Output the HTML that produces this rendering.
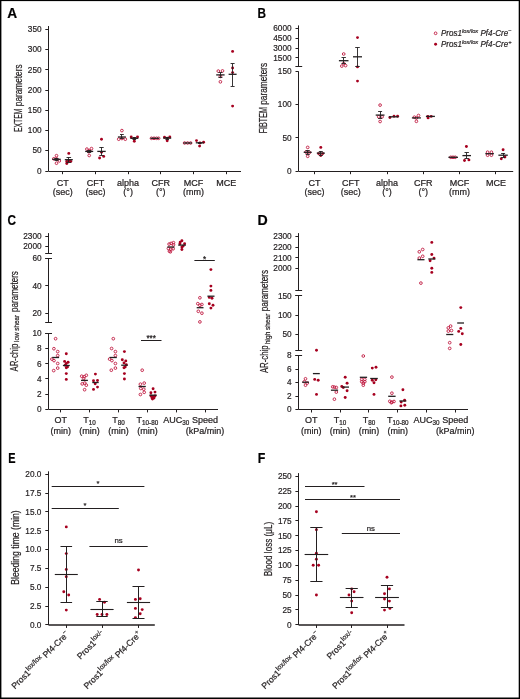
<!DOCTYPE html>
<html><head><meta charset="utf-8"><style>
html,body{margin:0;padding:0;background:#fff;}
svg{display:block;will-change:transform;}
text{font-family:"Liberation Sans",sans-serif;stroke:#231f20;stroke-width:0.22px;}
</style></head><body>
<svg width="520" height="699" viewBox="0 0 520 699" font-family="Liberation Sans, sans-serif">
<rect width="520" height="699" fill="#fff"/>
<text x="7.3" y="18.3" font-size="13.8" font-weight="bold" fill="#000" textLength="9.9" lengthAdjust="spacingAndGlyphs">A</text>
<line x1="48.50" y1="26.00" x2="48.50" y2="171.00" stroke="#231f20" stroke-width="1.0"/>
<line x1="45.30" y1="171.50" x2="48.50" y2="171.50" stroke="#231f20" stroke-width="1.0"/>
<text x="41.60" y="173.70" font-size="9.5" fill="#231f20" text-anchor="end" textLength="4.60" lengthAdjust="spacingAndGlyphs">0</text>
<line x1="45.30" y1="150.50" x2="48.50" y2="150.50" stroke="#231f20" stroke-width="1.0"/>
<text x="41.60" y="153.47" font-size="9.5" fill="#231f20" text-anchor="end" textLength="9.19" lengthAdjust="spacingAndGlyphs">50</text>
<line x1="45.30" y1="130.50" x2="48.50" y2="130.50" stroke="#231f20" stroke-width="1.0"/>
<text x="41.60" y="133.24" font-size="9.5" fill="#231f20" text-anchor="end" textLength="13.79" lengthAdjust="spacingAndGlyphs">100</text>
<line x1="45.30" y1="110.50" x2="48.50" y2="110.50" stroke="#231f20" stroke-width="1.0"/>
<text x="41.60" y="113.01" font-size="9.5" fill="#231f20" text-anchor="end" textLength="13.79" lengthAdjust="spacingAndGlyphs">150</text>
<line x1="45.30" y1="90.50" x2="48.50" y2="90.50" stroke="#231f20" stroke-width="1.0"/>
<text x="41.60" y="92.78" font-size="9.5" fill="#231f20" text-anchor="end" textLength="13.79" lengthAdjust="spacingAndGlyphs">200</text>
<line x1="45.30" y1="69.50" x2="48.50" y2="69.50" stroke="#231f20" stroke-width="1.0"/>
<text x="41.60" y="72.55" font-size="9.5" fill="#231f20" text-anchor="end" textLength="13.79" lengthAdjust="spacingAndGlyphs">250</text>
<line x1="45.30" y1="49.50" x2="48.50" y2="49.50" stroke="#231f20" stroke-width="1.0"/>
<text x="41.60" y="52.32" font-size="9.5" fill="#231f20" text-anchor="end" textLength="13.79" lengthAdjust="spacingAndGlyphs">300</text>
<line x1="45.30" y1="29.50" x2="48.50" y2="29.50" stroke="#231f20" stroke-width="1.0"/>
<text x="41.60" y="32.09" font-size="9.5" fill="#231f20" text-anchor="end" textLength="13.79" lengthAdjust="spacingAndGlyphs">350</text>
<line x1="48.50" y1="171.50" x2="241.00" y2="171.50" stroke="#231f20" stroke-width="1.0"/>
<line x1="62.50" y1="171.00" x2="62.50" y2="174.20" stroke="#231f20" stroke-width="1.0"/>
<line x1="95.50" y1="171.00" x2="95.50" y2="174.20" stroke="#231f20" stroke-width="1.0"/>
<line x1="128.50" y1="171.00" x2="128.50" y2="174.20" stroke="#231f20" stroke-width="1.0"/>
<line x1="160.50" y1="171.00" x2="160.50" y2="174.20" stroke="#231f20" stroke-width="1.0"/>
<line x1="193.50" y1="171.00" x2="193.50" y2="174.20" stroke="#231f20" stroke-width="1.0"/>
<line x1="226.50" y1="171.00" x2="226.50" y2="174.20" stroke="#231f20" stroke-width="1.0"/>
<text transform="translate(21.60,131.90) rotate(-90)" x="0" y="0" font-size="10.2" fill="#231f20" textLength="23.2" lengthAdjust="spacingAndGlyphs">EXTEM</text>
<text transform="translate(21.60,106.20) rotate(-90)" x="0" y="0" font-size="10.2" fill="#231f20" textLength="41.8" lengthAdjust="spacingAndGlyphs">parameters</text>
<text x="62.70" y="185.60" font-size="9.0" fill="#231f20" text-anchor="middle">CT</text>
<text x="62.70" y="195.20" font-size="9.0" fill="#231f20" text-anchor="middle">(sec)</text>
<text x="95.40" y="185.60" font-size="9.0" fill="#231f20" text-anchor="middle">CFT</text>
<text x="95.40" y="195.20" font-size="9.0" fill="#231f20" text-anchor="middle">(sec)</text>
<text x="128.10" y="185.60" font-size="9.0" fill="#231f20" text-anchor="middle">alpha</text>
<text x="128.10" y="195.20" font-size="9.0" fill="#231f20" text-anchor="middle">(°)</text>
<text x="160.80" y="185.60" font-size="9.0" fill="#231f20" text-anchor="middle">CFR</text>
<text x="160.80" y="195.20" font-size="9.0" fill="#231f20" text-anchor="middle">(°)</text>
<text x="193.50" y="185.60" font-size="9.0" fill="#231f20" text-anchor="middle">MCF</text>
<text x="193.50" y="195.20" font-size="9.0" fill="#231f20" text-anchor="middle">(mm)</text>
<text x="226.20" y="185.60" font-size="9.0" fill="#231f20" text-anchor="middle">MCE</text>
<circle cx="56.50" cy="155.70" r="1.35" fill="none" stroke="#c0183f" stroke-width="0.9"/>
<circle cx="53.80" cy="158.80" r="1.35" fill="none" stroke="#c0183f" stroke-width="0.9"/>
<circle cx="59.30" cy="160.90" r="1.35" fill="none" stroke="#c0183f" stroke-width="0.9"/>
<circle cx="56.50" cy="163.20" r="1.35" fill="none" stroke="#c0183f" stroke-width="0.9"/>
<circle cx="56.50" cy="158.80" r="1.35" fill="none" stroke="#c0183f" stroke-width="0.9"/>
<line x1="56.50" y1="158.00" x2="56.50" y2="160.60" stroke="#231f20" stroke-width="0.9"/>
<line x1="54.50" y1="158.50" x2="58.50" y2="158.50" stroke="#231f20" stroke-width="0.9"/>
<line x1="54.50" y1="160.50" x2="58.50" y2="160.50" stroke="#231f20" stroke-width="0.9"/>
<line x1="52.30" y1="159.30" x2="60.70" y2="159.30" stroke="#231f20" stroke-width="1.3"/>
<circle cx="68.80" cy="153.40" r="1.45" fill="#a6001f"/>
<circle cx="66.80" cy="161.40" r="1.45" fill="#a6001f"/>
<circle cx="70.80" cy="161.40" r="1.45" fill="#a6001f"/>
<circle cx="66.80" cy="163.50" r="1.45" fill="#a6001f"/>
<circle cx="68.80" cy="161.00" r="1.45" fill="#a6001f"/>
<line x1="68.50" y1="157.40" x2="68.50" y2="162.00" stroke="#231f20" stroke-width="0.9"/>
<line x1="66.50" y1="157.50" x2="71.10" y2="157.50" stroke="#231f20" stroke-width="0.9"/>
<line x1="66.50" y1="162.50" x2="71.10" y2="162.50" stroke="#231f20" stroke-width="0.9"/>
<line x1="64.80" y1="159.70" x2="72.80" y2="159.70" stroke="#231f20" stroke-width="1.3"/>
<circle cx="86.90" cy="149.10" r="1.35" fill="none" stroke="#c0183f" stroke-width="0.9"/>
<circle cx="91.50" cy="148.60" r="1.35" fill="none" stroke="#c0183f" stroke-width="0.9"/>
<circle cx="89.20" cy="150.60" r="1.35" fill="none" stroke="#c0183f" stroke-width="0.9"/>
<circle cx="89.20" cy="155.50" r="1.35" fill="none" stroke="#c0183f" stroke-width="0.9"/>
<circle cx="88.70" cy="151.70" r="1.35" fill="none" stroke="#c0183f" stroke-width="0.9"/>
<line x1="89.50" y1="150.40" x2="89.50" y2="152.60" stroke="#231f20" stroke-width="0.9"/>
<line x1="87.20" y1="150.50" x2="91.20" y2="150.50" stroke="#231f20" stroke-width="0.9"/>
<line x1="87.20" y1="152.50" x2="91.20" y2="152.50" stroke="#231f20" stroke-width="0.9"/>
<line x1="85.20" y1="151.40" x2="93.20" y2="151.40" stroke="#231f20" stroke-width="1.3"/>
<circle cx="101.50" cy="139.30" r="1.45" fill="#a6001f"/>
<circle cx="99.60" cy="158.00" r="1.45" fill="#a6001f"/>
<circle cx="103.70" cy="156.40" r="1.45" fill="#a6001f"/>
<circle cx="101.50" cy="152.30" r="1.45" fill="#a6001f"/>
<line x1="101.50" y1="147.10" x2="101.50" y2="155.30" stroke="#231f20" stroke-width="0.9"/>
<line x1="99.30" y1="147.50" x2="103.70" y2="147.50" stroke="#231f20" stroke-width="0.9"/>
<line x1="99.30" y1="155.50" x2="103.70" y2="155.50" stroke="#231f20" stroke-width="0.9"/>
<line x1="97.30" y1="151.40" x2="105.70" y2="151.40" stroke="#231f20" stroke-width="1.3"/>
<circle cx="121.90" cy="130.60" r="1.35" fill="none" stroke="#c0183f" stroke-width="0.9"/>
<circle cx="118.70" cy="139.20" r="1.35" fill="none" stroke="#c0183f" stroke-width="0.9"/>
<circle cx="125.30" cy="139.20" r="1.35" fill="none" stroke="#c0183f" stroke-width="0.9"/>
<circle cx="121.90" cy="138.50" r="1.35" fill="none" stroke="#c0183f" stroke-width="0.9"/>
<line x1="121.50" y1="134.60" x2="121.50" y2="138.50" stroke="#231f20" stroke-width="0.9"/>
<line x1="120.00" y1="134.50" x2="123.80" y2="134.50" stroke="#231f20" stroke-width="0.9"/>
<line x1="120.00" y1="138.50" x2="123.80" y2="138.50" stroke="#231f20" stroke-width="0.9"/>
<line x1="117.90" y1="137.00" x2="125.90" y2="137.00" stroke="#231f20" stroke-width="1.3"/>
<circle cx="131.20" cy="137.00" r="1.45" fill="#a6001f"/>
<circle cx="137.50" cy="137.00" r="1.45" fill="#a6001f"/>
<circle cx="134.30" cy="141.30" r="1.45" fill="#a6001f"/>
<circle cx="134.30" cy="138.50" r="1.45" fill="#a6001f"/>
<line x1="134.50" y1="137.60" x2="134.50" y2="139.20" stroke="#231f20" stroke-width="0.9"/>
<line x1="132.50" y1="137.50" x2="136.10" y2="137.50" stroke="#231f20" stroke-width="0.9"/>
<line x1="132.50" y1="139.50" x2="136.10" y2="139.50" stroke="#231f20" stroke-width="0.9"/>
<line x1="130.30" y1="138.30" x2="138.30" y2="138.30" stroke="#231f20" stroke-width="1.3"/>
<circle cx="151.50" cy="138.30" r="1.35" fill="none" stroke="#c0183f" stroke-width="0.9"/>
<circle cx="154.00" cy="138.30" r="1.35" fill="none" stroke="#c0183f" stroke-width="0.9"/>
<circle cx="156.50" cy="138.30" r="1.35" fill="none" stroke="#c0183f" stroke-width="0.9"/>
<circle cx="158.60" cy="138.30" r="1.35" fill="none" stroke="#c0183f" stroke-width="0.9"/>
<line x1="150.50" y1="138.30" x2="159.10" y2="138.30" stroke="#231f20" stroke-width="1.3"/>
<circle cx="164.50" cy="137.20" r="1.45" fill="#a6001f"/>
<circle cx="169.80" cy="137.00" r="1.45" fill="#a6001f"/>
<circle cx="167.20" cy="140.80" r="1.45" fill="#a6001f"/>
<circle cx="167.20" cy="138.30" r="1.45" fill="#a6001f"/>
<line x1="167.50" y1="137.30" x2="167.50" y2="139.00" stroke="#231f20" stroke-width="0.9"/>
<line x1="165.40" y1="137.50" x2="169.00" y2="137.50" stroke="#231f20" stroke-width="0.9"/>
<line x1="165.40" y1="139.50" x2="169.00" y2="139.50" stroke="#231f20" stroke-width="0.9"/>
<line x1="163.20" y1="138.10" x2="171.20" y2="138.10" stroke="#231f20" stroke-width="1.3"/>
<circle cx="184.60" cy="143.00" r="1.35" fill="none" stroke="#c0183f" stroke-width="0.9"/>
<circle cx="187.60" cy="143.00" r="1.35" fill="none" stroke="#c0183f" stroke-width="0.9"/>
<circle cx="190.60" cy="143.00" r="1.35" fill="none" stroke="#c0183f" stroke-width="0.9"/>
<line x1="183.50" y1="143.00" x2="191.90" y2="143.00" stroke="#231f20" stroke-width="1.3"/>
<circle cx="196.50" cy="140.60" r="1.45" fill="#a6001f"/>
<circle cx="203.60" cy="142.20" r="1.45" fill="#a6001f"/>
<circle cx="199.60" cy="146.10" r="1.45" fill="#a6001f"/>
<circle cx="200.00" cy="143.00" r="1.45" fill="#a6001f"/>
<line x1="199.50" y1="142.00" x2="199.50" y2="143.80" stroke="#231f20" stroke-width="0.9"/>
<line x1="198.00" y1="142.50" x2="201.60" y2="142.50" stroke="#231f20" stroke-width="0.9"/>
<line x1="198.00" y1="143.50" x2="201.60" y2="143.50" stroke="#231f20" stroke-width="0.9"/>
<line x1="195.80" y1="142.80" x2="203.80" y2="142.80" stroke="#231f20" stroke-width="1.3"/>
<circle cx="218.30" cy="71.10" r="1.35" fill="none" stroke="#c0183f" stroke-width="0.9"/>
<circle cx="222.50" cy="70.90" r="1.35" fill="none" stroke="#c0183f" stroke-width="0.9"/>
<circle cx="220.40" cy="81.80" r="1.35" fill="none" stroke="#c0183f" stroke-width="0.9"/>
<circle cx="220.40" cy="76.40" r="1.35" fill="none" stroke="#c0183f" stroke-width="0.9"/>
<line x1="220.50" y1="72.60" x2="220.50" y2="77.20" stroke="#231f20" stroke-width="0.9"/>
<line x1="218.40" y1="72.50" x2="222.40" y2="72.50" stroke="#231f20" stroke-width="0.9"/>
<line x1="218.40" y1="77.50" x2="222.40" y2="77.50" stroke="#231f20" stroke-width="0.9"/>
<line x1="216.20" y1="74.90" x2="224.60" y2="74.90" stroke="#231f20" stroke-width="1.3"/>
<circle cx="232.60" cy="51.40" r="1.45" fill="#a6001f"/>
<circle cx="232.60" cy="68.00" r="1.45" fill="#a6001f"/>
<circle cx="232.60" cy="72.60" r="1.45" fill="#a6001f"/>
<circle cx="232.60" cy="106.10" r="1.45" fill="#a6001f"/>
<line x1="232.50" y1="63.50" x2="232.50" y2="86.00" stroke="#231f20" stroke-width="0.9"/>
<line x1="230.60" y1="63.50" x2="234.60" y2="63.50" stroke="#231f20" stroke-width="0.9"/>
<line x1="230.60" y1="86.50" x2="234.60" y2="86.50" stroke="#231f20" stroke-width="0.9"/>
<line x1="228.60" y1="74.30" x2="236.60" y2="74.30" stroke="#231f20" stroke-width="1.3"/>
<text x="257.6" y="18.3" font-size="13.8" font-weight="bold" fill="#000" textLength="8.5" lengthAdjust="spacingAndGlyphs">B</text>
<line x1="298.50" y1="25.40" x2="298.50" y2="66.30" stroke="#231f20" stroke-width="1.0"/>
<line x1="298.50" y1="71.50" x2="298.50" y2="171.00" stroke="#231f20" stroke-width="1.0"/>
<line x1="295.50" y1="28.50" x2="298.70" y2="28.50" stroke="#231f20" stroke-width="1.0"/>
<text x="291.60" y="31.38" font-size="9.5" fill="#231f20" text-anchor="end" textLength="18.38" lengthAdjust="spacingAndGlyphs">6000</text>
<line x1="295.50" y1="38.50" x2="298.70" y2="38.50" stroke="#231f20" stroke-width="1.0"/>
<text x="291.60" y="41.09" font-size="9.5" fill="#231f20" text-anchor="end" textLength="18.38" lengthAdjust="spacingAndGlyphs">4500</text>
<line x1="295.50" y1="48.50" x2="298.70" y2="48.50" stroke="#231f20" stroke-width="1.0"/>
<text x="291.60" y="50.80" font-size="9.5" fill="#231f20" text-anchor="end" textLength="18.38" lengthAdjust="spacingAndGlyphs">3000</text>
<line x1="295.50" y1="57.50" x2="298.70" y2="57.50" stroke="#231f20" stroke-width="1.0"/>
<text x="291.60" y="60.50" font-size="9.5" fill="#231f20" text-anchor="end" textLength="18.38" lengthAdjust="spacingAndGlyphs">1500</text>
<line x1="295.50" y1="171.50" x2="298.70" y2="171.50" stroke="#231f20" stroke-width="1.0"/>
<text x="291.60" y="173.70" font-size="9.5" fill="#231f20" text-anchor="end" textLength="4.60" lengthAdjust="spacingAndGlyphs">0</text>
<line x1="295.50" y1="137.50" x2="298.70" y2="137.50" stroke="#231f20" stroke-width="1.0"/>
<text x="291.60" y="140.53" font-size="9.5" fill="#231f20" text-anchor="end" textLength="9.19" lengthAdjust="spacingAndGlyphs">50</text>
<line x1="295.50" y1="104.50" x2="298.70" y2="104.50" stroke="#231f20" stroke-width="1.0"/>
<text x="291.60" y="107.37" font-size="9.5" fill="#231f20" text-anchor="end" textLength="13.79" lengthAdjust="spacingAndGlyphs">100</text>
<line x1="295.50" y1="71.50" x2="298.70" y2="71.50" stroke="#231f20" stroke-width="1.0"/>
<text x="291.60" y="74.20" font-size="9.5" fill="#231f20" text-anchor="end" textLength="13.79" lengthAdjust="spacingAndGlyphs">150</text>
<line x1="295.40" y1="66.50" x2="302.20" y2="66.50" stroke="#231f20" stroke-width="1.0"/>
<line x1="298.70" y1="171.50" x2="513.20" y2="171.50" stroke="#231f20" stroke-width="1.0"/>
<line x1="314.50" y1="171.00" x2="314.50" y2="174.20" stroke="#231f20" stroke-width="1.0"/>
<line x1="350.50" y1="171.00" x2="350.50" y2="174.20" stroke="#231f20" stroke-width="1.0"/>
<line x1="387.50" y1="171.00" x2="387.50" y2="174.20" stroke="#231f20" stroke-width="1.0"/>
<line x1="423.50" y1="171.00" x2="423.50" y2="174.20" stroke="#231f20" stroke-width="1.0"/>
<line x1="459.50" y1="171.00" x2="459.50" y2="174.20" stroke="#231f20" stroke-width="1.0"/>
<line x1="495.50" y1="171.00" x2="495.50" y2="174.20" stroke="#231f20" stroke-width="1.0"/>
<text transform="translate(266.90,133.30) rotate(-90)" x="0" y="0" font-size="10.2" fill="#231f20" textLength="26.2" lengthAdjust="spacingAndGlyphs">FIBTEM</text>
<text transform="translate(266.90,104.80) rotate(-90)" x="0" y="0" font-size="10.2" fill="#231f20" textLength="42.0" lengthAdjust="spacingAndGlyphs">parameters</text>
<text x="314.50" y="185.60" font-size="9.0" fill="#231f20" text-anchor="middle">CT</text>
<text x="314.50" y="195.20" font-size="9.0" fill="#231f20" text-anchor="middle">(sec)</text>
<text x="350.70" y="185.60" font-size="9.0" fill="#231f20" text-anchor="middle">CFT</text>
<text x="350.70" y="195.20" font-size="9.0" fill="#231f20" text-anchor="middle">(sec)</text>
<text x="387.00" y="185.60" font-size="9.0" fill="#231f20" text-anchor="middle">alpha</text>
<text x="387.00" y="195.20" font-size="9.0" fill="#231f20" text-anchor="middle">(°)</text>
<text x="423.30" y="185.60" font-size="9.0" fill="#231f20" text-anchor="middle">CFR</text>
<text x="423.30" y="195.20" font-size="9.0" fill="#231f20" text-anchor="middle">(°)</text>
<text x="459.60" y="185.60" font-size="9.0" fill="#231f20" text-anchor="middle">MCF</text>
<text x="459.60" y="195.20" font-size="9.0" fill="#231f20" text-anchor="middle">(mm)</text>
<text x="495.90" y="185.60" font-size="9.0" fill="#231f20" text-anchor="middle">MCE</text>
<circle cx="307.70" cy="147.40" r="1.35" fill="none" stroke="#c0183f" stroke-width="0.9"/>
<circle cx="306.00" cy="152.00" r="1.35" fill="none" stroke="#c0183f" stroke-width="0.9"/>
<circle cx="309.50" cy="152.50" r="1.35" fill="none" stroke="#c0183f" stroke-width="0.9"/>
<circle cx="307.70" cy="156.30" r="1.35" fill="none" stroke="#c0183f" stroke-width="0.9"/>
<line x1="307.50" y1="150.50" x2="307.50" y2="154.00" stroke="#231f20" stroke-width="0.9"/>
<line x1="305.70" y1="150.50" x2="309.70" y2="150.50" stroke="#231f20" stroke-width="0.9"/>
<line x1="305.70" y1="154.50" x2="309.70" y2="154.50" stroke="#231f20" stroke-width="0.9"/>
<line x1="303.70" y1="152.30" x2="311.70" y2="152.30" stroke="#231f20" stroke-width="1.3"/>
<circle cx="320.80" cy="147.40" r="1.45" fill="#a6001f"/>
<circle cx="318.60" cy="153.60" r="1.45" fill="#a6001f"/>
<circle cx="322.80" cy="153.60" r="1.45" fill="#a6001f"/>
<circle cx="320.80" cy="155.60" r="1.45" fill="#a6001f"/>
<line x1="320.50" y1="151.00" x2="320.50" y2="155.00" stroke="#231f20" stroke-width="0.9"/>
<line x1="318.80" y1="151.50" x2="322.80" y2="151.50" stroke="#231f20" stroke-width="0.9"/>
<line x1="318.80" y1="155.50" x2="322.80" y2="155.50" stroke="#231f20" stroke-width="0.9"/>
<line x1="316.80" y1="153.10" x2="324.80" y2="153.10" stroke="#231f20" stroke-width="1.3"/>
<circle cx="343.70" cy="54.00" r="1.35" fill="none" stroke="#c0183f" stroke-width="0.9"/>
<circle cx="341.80" cy="66.10" r="1.35" fill="none" stroke="#c0183f" stroke-width="0.9"/>
<circle cx="345.60" cy="65.60" r="1.35" fill="none" stroke="#c0183f" stroke-width="0.9"/>
<circle cx="343.70" cy="63.50" r="1.35" fill="none" stroke="#c0183f" stroke-width="0.9"/>
<line x1="343.50" y1="57.90" x2="343.50" y2="63.00" stroke="#231f20" stroke-width="0.9"/>
<line x1="341.50" y1="57.50" x2="345.90" y2="57.50" stroke="#231f20" stroke-width="0.9"/>
<line x1="341.50" y1="63.50" x2="345.90" y2="63.50" stroke="#231f20" stroke-width="0.9"/>
<line x1="338.90" y1="60.70" x2="348.50" y2="60.70" stroke="#231f20" stroke-width="1.3"/>
<circle cx="357.50" cy="37.60" r="1.45" fill="#a6001f"/>
<circle cx="357.50" cy="66.90" r="1.45" fill="#a6001f"/>
<circle cx="357.50" cy="81.10" r="1.45" fill="#a6001f"/>
<line x1="357.50" y1="47.40" x2="357.50" y2="66.50" stroke="#231f20" stroke-width="0.9"/>
<line x1="355.20" y1="47.50" x2="359.80" y2="47.50" stroke="#231f20" stroke-width="0.9"/>
<line x1="355.20" y1="66.50" x2="359.80" y2="66.50" stroke="#231f20" stroke-width="0.9"/>
<line x1="353.00" y1="56.80" x2="362.00" y2="56.80" stroke="#231f20" stroke-width="1.3"/>
<circle cx="380.10" cy="105.10" r="1.35" fill="none" stroke="#c0183f" stroke-width="0.9"/>
<circle cx="378.70" cy="116.80" r="1.35" fill="none" stroke="#c0183f" stroke-width="0.9"/>
<circle cx="382.10" cy="116.80" r="1.35" fill="none" stroke="#c0183f" stroke-width="0.9"/>
<circle cx="380.10" cy="121.50" r="1.35" fill="none" stroke="#c0183f" stroke-width="0.9"/>
<line x1="380.50" y1="111.40" x2="380.50" y2="118.20" stroke="#231f20" stroke-width="0.9"/>
<line x1="378.10" y1="111.50" x2="382.10" y2="111.50" stroke="#231f20" stroke-width="0.9"/>
<line x1="378.10" y1="118.50" x2="382.10" y2="118.50" stroke="#231f20" stroke-width="0.9"/>
<line x1="375.70" y1="115.10" x2="384.50" y2="115.10" stroke="#231f20" stroke-width="1.3"/>
<circle cx="389.90" cy="117.50" r="1.45" fill="#a6001f"/>
<circle cx="394.00" cy="116.20" r="1.45" fill="#a6001f"/>
<circle cx="397.60" cy="116.20" r="1.45" fill="#a6001f"/>
<line x1="388.90" y1="116.80" x2="398.50" y2="116.80" stroke="#231f20" stroke-width="1.3"/>
<circle cx="414.40" cy="117.20" r="1.35" fill="none" stroke="#c0183f" stroke-width="0.9"/>
<circle cx="418.50" cy="115.50" r="1.35" fill="none" stroke="#c0183f" stroke-width="0.9"/>
<circle cx="416.40" cy="121.30" r="1.35" fill="none" stroke="#c0183f" stroke-width="0.9"/>
<circle cx="416.40" cy="118.00" r="1.35" fill="none" stroke="#c0183f" stroke-width="0.9"/>
<line x1="411.90" y1="117.90" x2="420.90" y2="117.90" stroke="#231f20" stroke-width="1.3"/>
<circle cx="427.90" cy="116.40" r="1.45" fill="#a6001f"/>
<circle cx="428.10" cy="117.90" r="1.45" fill="#a6001f"/>
<circle cx="431.20" cy="116.40" r="1.45" fill="#a6001f"/>
<line x1="425.90" y1="116.40" x2="434.90" y2="116.40" stroke="#231f20" stroke-width="1.3"/>
<circle cx="450.80" cy="157.30" r="1.35" fill="none" stroke="#c0183f" stroke-width="0.9"/>
<circle cx="455.20" cy="157.30" r="1.35" fill="none" stroke="#c0183f" stroke-width="0.9"/>
<circle cx="453.00" cy="157.30" r="1.35" fill="none" stroke="#c0183f" stroke-width="0.9"/>
<line x1="448.40" y1="157.30" x2="458.00" y2="157.30" stroke="#231f20" stroke-width="1.3"/>
<circle cx="466.40" cy="146.50" r="1.45" fill="#a6001f"/>
<circle cx="464.50" cy="160.50" r="1.45" fill="#a6001f"/>
<circle cx="468.90" cy="159.90" r="1.45" fill="#a6001f"/>
<line x1="466.50" y1="152.70" x2="466.50" y2="158.50" stroke="#231f20" stroke-width="0.9"/>
<line x1="464.50" y1="152.50" x2="468.90" y2="152.50" stroke="#231f20" stroke-width="0.9"/>
<line x1="464.50" y1="158.50" x2="468.90" y2="158.50" stroke="#231f20" stroke-width="0.9"/>
<line x1="462.40" y1="155.60" x2="471.00" y2="155.60" stroke="#231f20" stroke-width="1.3"/>
<circle cx="487.60" cy="152.20" r="1.35" fill="none" stroke="#c0183f" stroke-width="0.9"/>
<circle cx="491.40" cy="152.20" r="1.35" fill="none" stroke="#c0183f" stroke-width="0.9"/>
<circle cx="487.60" cy="155.20" r="1.35" fill="none" stroke="#c0183f" stroke-width="0.9"/>
<circle cx="491.40" cy="155.20" r="1.35" fill="none" stroke="#c0183f" stroke-width="0.9"/>
<line x1="485.30" y1="153.70" x2="493.90" y2="153.70" stroke="#231f20" stroke-width="1.3"/>
<circle cx="503.10" cy="149.80" r="1.45" fill="#a6001f"/>
<circle cx="501.30" cy="158.80" r="1.45" fill="#a6001f"/>
<circle cx="504.90" cy="157.00" r="1.45" fill="#a6001f"/>
<line x1="503.50" y1="153.00" x2="503.50" y2="157.00" stroke="#231f20" stroke-width="0.9"/>
<line x1="501.10" y1="153.50" x2="505.10" y2="153.50" stroke="#231f20" stroke-width="0.9"/>
<line x1="501.10" y1="157.50" x2="505.10" y2="157.50" stroke="#231f20" stroke-width="0.9"/>
<line x1="498.40" y1="155.20" x2="507.80" y2="155.20" stroke="#231f20" stroke-width="1.3"/>
<circle cx="435.60" cy="33.30" r="1.35" fill="none" stroke="#c0183f" stroke-width="0.9"/>
<circle cx="435.60" cy="44.30" r="1.45" fill="#a6001f"/>
<text x="441.0" y="36.3" font-size="8.7" font-style="italic" fill="#231f20" textLength="70.5" lengthAdjust="spacingAndGlyphs">Pros1<tspan font-size="6.2" dy="-3.6">lox/lox</tspan><tspan dy="3.6"> Pf4-Cre</tspan><tspan font-size="6.2" dy="-3.6">−</tspan></text>
<text x="441.0" y="47.3" font-size="8.7" font-style="italic" fill="#231f20" textLength="70.5" lengthAdjust="spacingAndGlyphs">Pros1<tspan font-size="6.2" dy="-3.6">lox/lox</tspan><tspan dy="3.6"> Pf4-Cre</tspan><tspan font-size="6.2" dy="-3.6">+</tspan></text>
<text x="7.6" y="225.2" font-size="13.8" font-weight="bold" fill="#000" textLength="8.5" lengthAdjust="spacingAndGlyphs">C</text>
<line x1="48.50" y1="233.10" x2="48.50" y2="253.30" stroke="#231f20" stroke-width="1.0"/>
<line x1="48.50" y1="258.50" x2="48.50" y2="322.50" stroke="#231f20" stroke-width="1.0"/>
<line x1="48.50" y1="333.40" x2="48.50" y2="409.20" stroke="#231f20" stroke-width="1.0"/>
<line x1="45.30" y1="236.50" x2="48.50" y2="236.50" stroke="#231f20" stroke-width="1.0"/>
<text x="41.60" y="238.71" font-size="9.5" fill="#231f20" text-anchor="end" textLength="18.38" lengthAdjust="spacingAndGlyphs">2300</text>
<line x1="45.30" y1="246.50" x2="48.50" y2="246.50" stroke="#231f20" stroke-width="1.0"/>
<text x="41.60" y="248.70" font-size="9.5" fill="#231f20" text-anchor="end" textLength="18.38" lengthAdjust="spacingAndGlyphs">2000</text>
<line x1="45.30" y1="258.50" x2="48.50" y2="258.50" stroke="#231f20" stroke-width="1.0"/>
<text x="41.60" y="261.20" font-size="9.5" fill="#231f20" text-anchor="end" textLength="9.19" lengthAdjust="spacingAndGlyphs">60</text>
<line x1="45.30" y1="285.50" x2="48.50" y2="285.50" stroke="#231f20" stroke-width="1.0"/>
<text x="41.60" y="288.56" font-size="9.5" fill="#231f20" text-anchor="end" textLength="9.19" lengthAdjust="spacingAndGlyphs">40</text>
<line x1="45.30" y1="313.50" x2="48.50" y2="313.50" stroke="#231f20" stroke-width="1.0"/>
<text x="41.60" y="315.92" font-size="9.5" fill="#231f20" text-anchor="end" textLength="9.19" lengthAdjust="spacingAndGlyphs">20</text>
<line x1="45.30" y1="333.50" x2="48.50" y2="333.50" stroke="#231f20" stroke-width="1.0"/>
<text x="41.60" y="336.30" font-size="9.5" fill="#231f20" text-anchor="end" textLength="9.19" lengthAdjust="spacingAndGlyphs">10</text>
<line x1="45.30" y1="348.50" x2="48.50" y2="348.50" stroke="#231f20" stroke-width="1.0"/>
<text x="41.60" y="351.42" font-size="9.5" fill="#231f20" text-anchor="end" textLength="4.60" lengthAdjust="spacingAndGlyphs">8</text>
<line x1="45.30" y1="363.50" x2="48.50" y2="363.50" stroke="#231f20" stroke-width="1.0"/>
<text x="41.60" y="366.54" font-size="9.5" fill="#231f20" text-anchor="end" textLength="4.60" lengthAdjust="spacingAndGlyphs">6</text>
<line x1="45.30" y1="378.50" x2="48.50" y2="378.50" stroke="#231f20" stroke-width="1.0"/>
<text x="41.60" y="381.66" font-size="9.5" fill="#231f20" text-anchor="end" textLength="4.60" lengthAdjust="spacingAndGlyphs">4</text>
<line x1="45.30" y1="394.50" x2="48.50" y2="394.50" stroke="#231f20" stroke-width="1.0"/>
<text x="41.60" y="396.78" font-size="9.5" fill="#231f20" text-anchor="end" textLength="4.60" lengthAdjust="spacingAndGlyphs">2</text>
<line x1="45.30" y1="409.50" x2="48.50" y2="409.50" stroke="#231f20" stroke-width="1.0"/>
<text x="41.60" y="411.90" font-size="9.5" fill="#231f20" text-anchor="end" textLength="4.60" lengthAdjust="spacingAndGlyphs">0</text>
<line x1="45.20" y1="253.50" x2="52.00" y2="253.50" stroke="#231f20" stroke-width="1.0"/>
<line x1="45.20" y1="258.50" x2="52.00" y2="258.50" stroke="#231f20" stroke-width="1.0"/>
<line x1="45.20" y1="322.50" x2="52.00" y2="322.50" stroke="#231f20" stroke-width="1.0"/>
<line x1="45.20" y1="333.50" x2="52.00" y2="333.50" stroke="#231f20" stroke-width="1.0"/>
<line x1="48.50" y1="409.50" x2="218.00" y2="409.50" stroke="#231f20" stroke-width="1.0"/>
<line x1="60.50" y1="409.20" x2="60.50" y2="412.40" stroke="#231f20" stroke-width="1.0"/>
<line x1="89.50" y1="409.20" x2="89.50" y2="412.40" stroke="#231f20" stroke-width="1.0"/>
<line x1="118.50" y1="409.20" x2="118.50" y2="412.40" stroke="#231f20" stroke-width="1.0"/>
<line x1="147.50" y1="409.20" x2="147.50" y2="412.40" stroke="#231f20" stroke-width="1.0"/>
<line x1="176.50" y1="409.20" x2="176.50" y2="412.40" stroke="#231f20" stroke-width="1.0"/>
<line x1="205.50" y1="409.20" x2="205.50" y2="412.40" stroke="#231f20" stroke-width="1.0"/>
<text x="60.80" y="423.20" font-size="9.0" fill="#231f20" text-anchor="middle">OT</text>
<text x="60.80" y="433.60" font-size="9.0" fill="#231f20" text-anchor="middle">(min)</text>
<text x="89.60" y="423.20" font-size="9.0" fill="#231f20" text-anchor="middle">T<tspan font-size="6.3" dy="2.2">10</tspan></text>
<text x="89.60" y="433.60" font-size="9.0" fill="#231f20" text-anchor="middle">(min)</text>
<text x="118.40" y="423.20" font-size="9.0" fill="#231f20" text-anchor="middle">T<tspan font-size="6.3" dy="2.2">80</tspan></text>
<text x="118.40" y="433.60" font-size="9.0" fill="#231f20" text-anchor="middle">(min)</text>
<text x="147.40" y="423.20" font-size="9.0" fill="#231f20" text-anchor="middle">T<tspan font-size="6.3" dy="2.2">10-80</tspan></text>
<text x="147.40" y="433.60" font-size="9.0" fill="#231f20" text-anchor="middle">(min)</text>
<text x="176.30" y="423.20" font-size="9.0" fill="#231f20" text-anchor="middle">AUC<tspan font-size="6.3" dy="2.2">30</tspan></text>
<text x="205.10" y="423.20" font-size="9.0" fill="#231f20" text-anchor="middle">Speed</text>
<text x="205.10" y="433.60" font-size="9.0" fill="#231f20" text-anchor="middle">(kPa/min)</text>
<text transform="translate(17.60,371.60) rotate(-90)" x="0" y="0" font-size="10.4" fill="#231f20" textLength="28.0" lengthAdjust="spacingAndGlyphs">AR-chip</text>
<text transform="translate(19.40,341.90) rotate(-90)" x="0" y="0" font-size="7.8" fill="#231f20" textLength="27.0" lengthAdjust="spacingAndGlyphs">low shear</text>
<text transform="translate(17.60,311.90) rotate(-90)" x="0" y="0" font-size="10.4" fill="#231f20" textLength="40.8" lengthAdjust="spacingAndGlyphs">parameters</text>
<circle cx="55.60" cy="338.70" r="1.35" fill="none" stroke="#c0183f" stroke-width="0.9"/>
<circle cx="53.90" cy="348.70" r="1.35" fill="none" stroke="#c0183f" stroke-width="0.9"/>
<circle cx="57.70" cy="351.60" r="1.35" fill="none" stroke="#c0183f" stroke-width="0.9"/>
<circle cx="57.70" cy="355.60" r="1.35" fill="none" stroke="#c0183f" stroke-width="0.9"/>
<circle cx="51.90" cy="359.10" r="1.35" fill="none" stroke="#c0183f" stroke-width="0.9"/>
<circle cx="54.00" cy="360.60" r="1.35" fill="none" stroke="#c0183f" stroke-width="0.9"/>
<circle cx="57.70" cy="363.50" r="1.35" fill="none" stroke="#c0183f" stroke-width="0.9"/>
<circle cx="57.70" cy="368.10" r="1.35" fill="none" stroke="#c0183f" stroke-width="0.9"/>
<circle cx="53.70" cy="370.60" r="1.35" fill="none" stroke="#c0183f" stroke-width="0.9"/>
<line x1="52.20" y1="357.50" x2="59.10" y2="357.50" stroke="#231f20" stroke-width="1.3"/>
<circle cx="66.30" cy="353.70" r="1.45" fill="#a6001f"/>
<circle cx="64.60" cy="361.40" r="1.45" fill="#a6001f"/>
<circle cx="68.10" cy="362.30" r="1.45" fill="#a6001f"/>
<circle cx="66.30" cy="363.50" r="1.45" fill="#a6001f"/>
<circle cx="65.20" cy="365.20" r="1.45" fill="#a6001f"/>
<circle cx="67.50" cy="366.90" r="1.45" fill="#a6001f"/>
<circle cx="66.30" cy="367.80" r="1.45" fill="#a6001f"/>
<circle cx="66.30" cy="373.60" r="1.45" fill="#a6001f"/>
<circle cx="66.30" cy="379.40" r="1.45" fill="#a6001f"/>
<line x1="62.90" y1="365.50" x2="69.80" y2="365.50" stroke="#231f20" stroke-width="1.3"/>
<circle cx="81.70" cy="376.20" r="1.35" fill="none" stroke="#c0183f" stroke-width="0.9"/>
<circle cx="84.20" cy="376.70" r="1.35" fill="none" stroke="#c0183f" stroke-width="0.9"/>
<circle cx="86.30" cy="375.30" r="1.35" fill="none" stroke="#c0183f" stroke-width="0.9"/>
<circle cx="83.70" cy="378.50" r="1.35" fill="none" stroke="#c0183f" stroke-width="0.9"/>
<circle cx="82.20" cy="383.90" r="1.35" fill="none" stroke="#c0183f" stroke-width="0.9"/>
<circle cx="86.30" cy="385.20" r="1.35" fill="none" stroke="#c0183f" stroke-width="0.9"/>
<circle cx="84.80" cy="383.10" r="1.35" fill="none" stroke="#c0183f" stroke-width="0.9"/>
<circle cx="84.60" cy="389.70" r="1.35" fill="none" stroke="#c0183f" stroke-width="0.9"/>
<line x1="81.00" y1="380.40" x2="87.90" y2="380.40" stroke="#231f20" stroke-width="1.3"/>
<circle cx="95.40" cy="374.10" r="1.45" fill="#a6001f"/>
<circle cx="93.50" cy="380.80" r="1.45" fill="#a6001f"/>
<circle cx="97.50" cy="380.50" r="1.45" fill="#a6001f"/>
<circle cx="95.20" cy="383.70" r="1.45" fill="#a6001f"/>
<circle cx="97.50" cy="387.10" r="1.45" fill="#a6001f"/>
<circle cx="93.50" cy="389.40" r="1.45" fill="#a6001f"/>
<line x1="92.30" y1="382.50" x2="98.70" y2="382.50" stroke="#231f20" stroke-width="1.3"/>
<circle cx="113.30" cy="338.70" r="1.35" fill="none" stroke="#c0183f" stroke-width="0.9"/>
<circle cx="111.60" cy="348.50" r="1.35" fill="none" stroke="#c0183f" stroke-width="0.9"/>
<circle cx="115.40" cy="351.60" r="1.35" fill="none" stroke="#c0183f" stroke-width="0.9"/>
<circle cx="115.40" cy="355.60" r="1.35" fill="none" stroke="#c0183f" stroke-width="0.9"/>
<circle cx="109.60" cy="359.10" r="1.35" fill="none" stroke="#c0183f" stroke-width="0.9"/>
<circle cx="111.90" cy="360.60" r="1.35" fill="none" stroke="#c0183f" stroke-width="0.9"/>
<circle cx="115.40" cy="363.50" r="1.35" fill="none" stroke="#c0183f" stroke-width="0.9"/>
<circle cx="115.40" cy="368.10" r="1.35" fill="none" stroke="#c0183f" stroke-width="0.9"/>
<circle cx="111.30" cy="370.20" r="1.35" fill="none" stroke="#c0183f" stroke-width="0.9"/>
<line x1="109.60" y1="357.50" x2="116.80" y2="357.50" stroke="#231f20" stroke-width="1.3"/>
<circle cx="124.40" cy="351.60" r="1.45" fill="#a6001f"/>
<circle cx="122.30" cy="359.80" r="1.45" fill="#a6001f"/>
<circle cx="125.80" cy="360.90" r="1.45" fill="#a6001f"/>
<circle cx="124.00" cy="362.90" r="1.45" fill="#a6001f"/>
<circle cx="126.30" cy="364.80" r="1.45" fill="#a6001f"/>
<circle cx="125.20" cy="366.90" r="1.45" fill="#a6001f"/>
<circle cx="124.00" cy="367.80" r="1.45" fill="#a6001f"/>
<circle cx="124.40" cy="373.60" r="1.45" fill="#a6001f"/>
<circle cx="124.40" cy="379.00" r="1.45" fill="#a6001f"/>
<line x1="121.20" y1="365.20" x2="127.80" y2="365.20" stroke="#231f20" stroke-width="1.3"/>
<circle cx="142.20" cy="370.20" r="1.35" fill="none" stroke="#c0183f" stroke-width="0.9"/>
<circle cx="140.40" cy="384.20" r="1.35" fill="none" stroke="#c0183f" stroke-width="0.9"/>
<circle cx="144.20" cy="383.10" r="1.35" fill="none" stroke="#c0183f" stroke-width="0.9"/>
<circle cx="140.80" cy="388.50" r="1.35" fill="none" stroke="#c0183f" stroke-width="0.9"/>
<circle cx="143.80" cy="389.20" r="1.35" fill="none" stroke="#c0183f" stroke-width="0.9"/>
<circle cx="144.20" cy="392.30" r="1.35" fill="none" stroke="#c0183f" stroke-width="0.9"/>
<circle cx="140.40" cy="394.50" r="1.35" fill="none" stroke="#c0183f" stroke-width="0.9"/>
<line x1="138.50" y1="386.50" x2="145.80" y2="386.50" stroke="#231f20" stroke-width="1.3"/>
<circle cx="153.10" cy="388.80" r="1.45" fill="#a6001f"/>
<circle cx="150.90" cy="392.70" r="1.45" fill="#a6001f"/>
<circle cx="155.00" cy="392.10" r="1.45" fill="#a6001f"/>
<circle cx="151.00" cy="396.00" r="1.45" fill="#a6001f"/>
<circle cx="153.00" cy="396.50" r="1.45" fill="#a6001f"/>
<circle cx="155.00" cy="396.00" r="1.45" fill="#a6001f"/>
<circle cx="152.00" cy="398.00" r="1.45" fill="#a6001f"/>
<circle cx="154.00" cy="398.00" r="1.45" fill="#a6001f"/>
<circle cx="152.50" cy="399.10" r="1.45" fill="#a6001f"/>
<line x1="149.40" y1="395.20" x2="156.80" y2="395.20" stroke="#231f20" stroke-width="1.3"/>
<circle cx="169.10" cy="244.10" r="1.35" fill="none" stroke="#c0183f" stroke-width="0.9"/>
<circle cx="171.10" cy="243.40" r="1.35" fill="none" stroke="#c0183f" stroke-width="0.9"/>
<circle cx="173.50" cy="242.70" r="1.35" fill="none" stroke="#c0183f" stroke-width="0.9"/>
<circle cx="173.50" cy="244.80" r="1.35" fill="none" stroke="#c0183f" stroke-width="0.9"/>
<circle cx="168.40" cy="248.50" r="1.35" fill="none" stroke="#c0183f" stroke-width="0.9"/>
<circle cx="170.80" cy="249.10" r="1.35" fill="none" stroke="#c0183f" stroke-width="0.9"/>
<circle cx="173.10" cy="248.80" r="1.35" fill="none" stroke="#c0183f" stroke-width="0.9"/>
<circle cx="169.40" cy="251.20" r="1.35" fill="none" stroke="#c0183f" stroke-width="0.9"/>
<circle cx="170.40" cy="251.80" r="1.35" fill="none" stroke="#c0183f" stroke-width="0.9"/>
<line x1="167.40" y1="247.00" x2="174.50" y2="247.00" stroke="#231f20" stroke-width="1.3"/>
<circle cx="181.90" cy="240.70" r="1.45" fill="#a6001f"/>
<circle cx="180.20" cy="242.10" r="1.45" fill="#a6001f"/>
<circle cx="179.90" cy="243.70" r="1.45" fill="#a6001f"/>
<circle cx="184.60" cy="243.70" r="1.45" fill="#a6001f"/>
<circle cx="183.20" cy="246.10" r="1.45" fill="#a6001f"/>
<circle cx="181.90" cy="247.10" r="1.45" fill="#a6001f"/>
<circle cx="181.90" cy="249.50" r="1.45" fill="#a6001f"/>
<line x1="178.20" y1="245.10" x2="185.90" y2="245.10" stroke="#231f20" stroke-width="1.3"/>
<circle cx="199.90" cy="297.80" r="1.35" fill="none" stroke="#c0183f" stroke-width="0.9"/>
<circle cx="197.80" cy="303.70" r="1.35" fill="none" stroke="#c0183f" stroke-width="0.9"/>
<circle cx="201.90" cy="304.50" r="1.35" fill="none" stroke="#c0183f" stroke-width="0.9"/>
<circle cx="199.90" cy="305.30" r="1.35" fill="none" stroke="#c0183f" stroke-width="0.9"/>
<circle cx="198.30" cy="311.30" r="1.35" fill="none" stroke="#c0183f" stroke-width="0.9"/>
<circle cx="201.90" cy="313.20" r="1.35" fill="none" stroke="#c0183f" stroke-width="0.9"/>
<circle cx="199.90" cy="321.90" r="1.35" fill="none" stroke="#c0183f" stroke-width="0.9"/>
<line x1="196.70" y1="307.70" x2="203.50" y2="307.70" stroke="#231f20" stroke-width="1.3"/>
<circle cx="210.90" cy="269.60" r="1.45" fill="#a6001f"/>
<circle cx="210.90" cy="286.10" r="1.45" fill="#a6001f"/>
<circle cx="210.90" cy="290.40" r="1.45" fill="#a6001f"/>
<circle cx="209.30" cy="297.40" r="1.45" fill="#a6001f"/>
<circle cx="212.00" cy="298.20" r="1.45" fill="#a6001f"/>
<circle cx="209.30" cy="303.70" r="1.45" fill="#a6001f"/>
<circle cx="213.00" cy="305.30" r="1.45" fill="#a6001f"/>
<circle cx="210.90" cy="308.10" r="1.45" fill="#a6001f"/>
<line x1="207.40" y1="296.20" x2="214.50" y2="296.20" stroke="#231f20" stroke-width="1.3"/>
<line x1="141.00" y1="340.50" x2="161.50" y2="340.50" stroke="#231f20" stroke-width="1.0"/>
<text x="151.20" y="341.40" font-size="8.2" fill="#231f20" text-anchor="middle">***</text>
<line x1="194.40" y1="260.50" x2="214.80" y2="260.50" stroke="#231f20" stroke-width="1.0"/>
<text x="204.60" y="261.80" font-size="8.2" fill="#231f20" text-anchor="middle">*</text>
<text x="257.4" y="225.2" font-size="13.8" font-weight="bold" fill="#000" textLength="10.2" lengthAdjust="spacingAndGlyphs">D</text>
<line x1="298.50" y1="233.10" x2="298.50" y2="290.60" stroke="#231f20" stroke-width="1.0"/>
<line x1="298.50" y1="295.80" x2="298.50" y2="350.40" stroke="#231f20" stroke-width="1.0"/>
<line x1="298.50" y1="355.60" x2="298.50" y2="409.50" stroke="#231f20" stroke-width="1.0"/>
<line x1="295.40" y1="236.50" x2="298.60" y2="236.50" stroke="#231f20" stroke-width="1.0"/>
<text x="291.70" y="238.99" font-size="9.5" fill="#231f20" text-anchor="end" textLength="18.38" lengthAdjust="spacingAndGlyphs">2300</text>
<line x1="295.40" y1="247.50" x2="298.60" y2="247.50" stroke="#231f20" stroke-width="1.0"/>
<text x="291.70" y="249.76" font-size="9.5" fill="#231f20" text-anchor="end" textLength="18.38" lengthAdjust="spacingAndGlyphs">2200</text>
<line x1="295.40" y1="257.50" x2="298.60" y2="257.50" stroke="#231f20" stroke-width="1.0"/>
<text x="291.70" y="260.53" font-size="9.5" fill="#231f20" text-anchor="end" textLength="18.38" lengthAdjust="spacingAndGlyphs">2100</text>
<line x1="295.40" y1="268.50" x2="298.60" y2="268.50" stroke="#231f20" stroke-width="1.0"/>
<text x="291.70" y="271.30" font-size="9.5" fill="#231f20" text-anchor="end" textLength="18.38" lengthAdjust="spacingAndGlyphs">2000</text>
<line x1="295.40" y1="295.50" x2="298.60" y2="295.50" stroke="#231f20" stroke-width="1.0"/>
<text x="291.70" y="298.50" font-size="9.5" fill="#231f20" text-anchor="end" textLength="13.79" lengthAdjust="spacingAndGlyphs">150</text>
<line x1="295.40" y1="315.50" x2="298.60" y2="315.50" stroke="#231f20" stroke-width="1.0"/>
<text x="291.70" y="317.80" font-size="9.5" fill="#231f20" text-anchor="end" textLength="13.79" lengthAdjust="spacingAndGlyphs">100</text>
<line x1="295.40" y1="334.50" x2="298.60" y2="334.50" stroke="#231f20" stroke-width="1.0"/>
<text x="291.70" y="337.10" font-size="9.5" fill="#231f20" text-anchor="end" textLength="9.19" lengthAdjust="spacingAndGlyphs">50</text>
<line x1="295.40" y1="355.50" x2="298.60" y2="355.50" stroke="#231f20" stroke-width="1.0"/>
<text x="291.70" y="358.28" font-size="9.5" fill="#231f20" text-anchor="end" textLength="4.60" lengthAdjust="spacingAndGlyphs">8</text>
<line x1="295.40" y1="369.50" x2="298.60" y2="369.50" stroke="#231f20" stroke-width="1.0"/>
<text x="291.70" y="371.76" font-size="9.5" fill="#231f20" text-anchor="end" textLength="4.60" lengthAdjust="spacingAndGlyphs">6</text>
<line x1="295.40" y1="382.50" x2="298.60" y2="382.50" stroke="#231f20" stroke-width="1.0"/>
<text x="291.70" y="385.24" font-size="9.5" fill="#231f20" text-anchor="end" textLength="4.60" lengthAdjust="spacingAndGlyphs">4</text>
<line x1="295.40" y1="396.50" x2="298.60" y2="396.50" stroke="#231f20" stroke-width="1.0"/>
<text x="291.70" y="398.72" font-size="9.5" fill="#231f20" text-anchor="end" textLength="4.60" lengthAdjust="spacingAndGlyphs">2</text>
<line x1="295.40" y1="409.50" x2="298.60" y2="409.50" stroke="#231f20" stroke-width="1.0"/>
<text x="291.70" y="412.20" font-size="9.5" fill="#231f20" text-anchor="end" textLength="4.60" lengthAdjust="spacingAndGlyphs">0</text>
<line x1="295.30" y1="290.50" x2="302.10" y2="290.50" stroke="#231f20" stroke-width="1.0"/>
<line x1="295.30" y1="295.50" x2="302.10" y2="295.50" stroke="#231f20" stroke-width="1.0"/>
<line x1="295.30" y1="350.50" x2="302.10" y2="350.50" stroke="#231f20" stroke-width="1.0"/>
<line x1="295.30" y1="355.50" x2="302.10" y2="355.50" stroke="#231f20" stroke-width="1.0"/>
<line x1="298.60" y1="409.50" x2="468.00" y2="409.50" stroke="#231f20" stroke-width="1.0"/>
<line x1="311.50" y1="409.30" x2="311.50" y2="412.50" stroke="#231f20" stroke-width="1.0"/>
<line x1="340.50" y1="409.30" x2="340.50" y2="412.50" stroke="#231f20" stroke-width="1.0"/>
<line x1="368.50" y1="409.30" x2="368.50" y2="412.50" stroke="#231f20" stroke-width="1.0"/>
<line x1="397.50" y1="409.30" x2="397.50" y2="412.50" stroke="#231f20" stroke-width="1.0"/>
<line x1="426.50" y1="409.30" x2="426.50" y2="412.50" stroke="#231f20" stroke-width="1.0"/>
<line x1="455.50" y1="409.30" x2="455.50" y2="412.50" stroke="#231f20" stroke-width="1.0"/>
<text x="311.20" y="423.20" font-size="9.0" fill="#231f20" text-anchor="middle">OT</text>
<text x="311.20" y="433.60" font-size="9.0" fill="#231f20" text-anchor="middle">(min)</text>
<text x="340.00" y="423.20" font-size="9.0" fill="#231f20" text-anchor="middle">T<tspan font-size="6.3" dy="2.2">10</tspan></text>
<text x="340.00" y="433.60" font-size="9.0" fill="#231f20" text-anchor="middle">(min)</text>
<text x="368.90" y="423.20" font-size="9.0" fill="#231f20" text-anchor="middle">T<tspan font-size="6.3" dy="2.2">80</tspan></text>
<text x="368.90" y="433.60" font-size="9.0" fill="#231f20" text-anchor="middle">(min)</text>
<text x="397.70" y="423.20" font-size="9.0" fill="#231f20" text-anchor="middle">T<tspan font-size="6.3" dy="2.2">10-80</tspan></text>
<text x="397.70" y="433.60" font-size="9.0" fill="#231f20" text-anchor="middle">(min)</text>
<text x="426.40" y="423.20" font-size="9.0" fill="#231f20" text-anchor="middle">AUC<tspan font-size="6.3" dy="2.2">30</tspan></text>
<text x="455.20" y="423.20" font-size="9.0" fill="#231f20" text-anchor="middle">Speed</text>
<text x="455.20" y="433.60" font-size="9.0" fill="#231f20" text-anchor="middle">(kPa/min)</text>
<text transform="translate(267.60,373.10) rotate(-90)" x="0" y="0" font-size="10.4" fill="#231f20" textLength="27.8" lengthAdjust="spacingAndGlyphs">AR-chip</text>
<text transform="translate(269.80,344.00) rotate(-90)" x="0" y="0" font-size="7.8" fill="#231f20" textLength="30.4" lengthAdjust="spacingAndGlyphs">high shear</text>
<text transform="translate(267.60,311.20) rotate(-90)" x="0" y="0" font-size="10.4" fill="#231f20" textLength="41.4" lengthAdjust="spacingAndGlyphs">parameters</text>
<circle cx="305.50" cy="378.80" r="1.35" fill="none" stroke="#c0183f" stroke-width="0.9"/>
<circle cx="304.40" cy="381.70" r="1.35" fill="none" stroke="#c0183f" stroke-width="0.9"/>
<circle cx="307.20" cy="383.10" r="1.35" fill="none" stroke="#c0183f" stroke-width="0.9"/>
<circle cx="305.50" cy="385.20" r="1.35" fill="none" stroke="#c0183f" stroke-width="0.9"/>
<line x1="302.10" y1="382.20" x2="309.00" y2="382.20" stroke="#231f20" stroke-width="1.3"/>
<circle cx="316.50" cy="350.20" r="1.45" fill="#a6001f"/>
<circle cx="314.70" cy="379.40" r="1.45" fill="#a6001f"/>
<circle cx="318.20" cy="380.20" r="1.45" fill="#a6001f"/>
<circle cx="316.50" cy="394.40" r="1.45" fill="#a6001f"/>
<line x1="312.90" y1="373.60" x2="319.80" y2="373.60" stroke="#231f20" stroke-width="1.3"/>
<circle cx="332.70" cy="386.80" r="1.35" fill="none" stroke="#c0183f" stroke-width="0.9"/>
<circle cx="334.40" cy="387.10" r="1.35" fill="none" stroke="#c0183f" stroke-width="0.9"/>
<circle cx="336.30" cy="387.50" r="1.35" fill="none" stroke="#c0183f" stroke-width="0.9"/>
<circle cx="336.30" cy="392.10" r="1.35" fill="none" stroke="#c0183f" stroke-width="0.9"/>
<circle cx="334.40" cy="399.20" r="1.35" fill="none" stroke="#c0183f" stroke-width="0.9"/>
<line x1="330.90" y1="390.20" x2="338.10" y2="390.20" stroke="#231f20" stroke-width="1.3"/>
<circle cx="345.20" cy="377.30" r="1.45" fill="#a6001f"/>
<circle cx="347.10" cy="383.30" r="1.45" fill="#a6001f"/>
<circle cx="341.80" cy="386.50" r="1.45" fill="#a6001f"/>
<circle cx="343.30" cy="387.50" r="1.45" fill="#a6001f"/>
<circle cx="347.10" cy="390.80" r="1.45" fill="#a6001f"/>
<circle cx="345.20" cy="397.50" r="1.45" fill="#a6001f"/>
<line x1="342.10" y1="387.10" x2="349.00" y2="387.10" stroke="#231f20" stroke-width="1.3"/>
<circle cx="363.30" cy="356.00" r="1.35" fill="none" stroke="#c0183f" stroke-width="0.9"/>
<circle cx="361.70" cy="379.40" r="1.35" fill="none" stroke="#c0183f" stroke-width="0.9"/>
<circle cx="364.80" cy="379.40" r="1.35" fill="none" stroke="#c0183f" stroke-width="0.9"/>
<circle cx="361.70" cy="381.70" r="1.35" fill="none" stroke="#c0183f" stroke-width="0.9"/>
<circle cx="364.80" cy="381.70" r="1.35" fill="none" stroke="#c0183f" stroke-width="0.9"/>
<circle cx="363.30" cy="383.10" r="1.35" fill="none" stroke="#c0183f" stroke-width="0.9"/>
<circle cx="363.30" cy="385.20" r="1.35" fill="none" stroke="#c0183f" stroke-width="0.9"/>
<line x1="359.80" y1="377.30" x2="367.10" y2="377.30" stroke="#231f20" stroke-width="1.3"/>
<circle cx="372.30" cy="368.10" r="1.45" fill="#a6001f"/>
<circle cx="376.00" cy="367.20" r="1.45" fill="#a6001f"/>
<circle cx="372.30" cy="380.20" r="1.45" fill="#a6001f"/>
<circle cx="375.80" cy="379.80" r="1.45" fill="#a6001f"/>
<circle cx="374.00" cy="382.80" r="1.45" fill="#a6001f"/>
<circle cx="374.00" cy="394.40" r="1.45" fill="#a6001f"/>
<line x1="370.20" y1="378.50" x2="377.80" y2="378.50" stroke="#231f20" stroke-width="1.3"/>
<circle cx="391.90" cy="377.10" r="1.35" fill="none" stroke="#c0183f" stroke-width="0.9"/>
<circle cx="391.90" cy="393.20" r="1.35" fill="none" stroke="#c0183f" stroke-width="0.9"/>
<circle cx="389.80" cy="401.30" r="1.35" fill="none" stroke="#c0183f" stroke-width="0.9"/>
<circle cx="391.90" cy="402.10" r="1.35" fill="none" stroke="#c0183f" stroke-width="0.9"/>
<circle cx="394.00" cy="401.50" r="1.35" fill="none" stroke="#c0183f" stroke-width="0.9"/>
<circle cx="391.30" cy="402.70" r="1.35" fill="none" stroke="#c0183f" stroke-width="0.9"/>
<line x1="388.20" y1="396.30" x2="395.60" y2="396.30" stroke="#231f20" stroke-width="1.3"/>
<circle cx="402.90" cy="389.80" r="1.45" fill="#a6001f"/>
<circle cx="404.60" cy="400.20" r="1.45" fill="#a6001f"/>
<circle cx="401.20" cy="402.10" r="1.45" fill="#a6001f"/>
<circle cx="400.90" cy="405.90" r="1.45" fill="#a6001f"/>
<circle cx="404.80" cy="405.20" r="1.45" fill="#a6001f"/>
<line x1="399.40" y1="401.00" x2="406.30" y2="401.00" stroke="#231f20" stroke-width="1.3"/>
<circle cx="419.30" cy="251.80" r="1.35" fill="none" stroke="#c0183f" stroke-width="0.9"/>
<circle cx="422.70" cy="249.50" r="1.35" fill="none" stroke="#c0183f" stroke-width="0.9"/>
<circle cx="422.70" cy="256.30" r="1.35" fill="none" stroke="#c0183f" stroke-width="0.9"/>
<circle cx="419.30" cy="258.10" r="1.35" fill="none" stroke="#c0183f" stroke-width="0.9"/>
<circle cx="420.90" cy="283.10" r="1.35" fill="none" stroke="#c0183f" stroke-width="0.9"/>
<line x1="417.40" y1="259.70" x2="424.50" y2="259.70" stroke="#231f20" stroke-width="1.3"/>
<circle cx="431.80" cy="242.40" r="1.45" fill="#a6001f"/>
<circle cx="431.80" cy="254.50" r="1.45" fill="#a6001f"/>
<circle cx="434.00" cy="258.10" r="1.45" fill="#a6001f"/>
<circle cx="430.10" cy="260.80" r="1.45" fill="#a6001f"/>
<circle cx="431.80" cy="268.30" r="1.45" fill="#a6001f"/>
<circle cx="431.80" cy="272.40" r="1.45" fill="#a6001f"/>
<line x1="428.30" y1="259.00" x2="435.40" y2="259.00" stroke="#231f20" stroke-width="1.3"/>
<circle cx="448.30" cy="327.90" r="1.35" fill="none" stroke="#c0183f" stroke-width="0.9"/>
<circle cx="450.60" cy="326.10" r="1.35" fill="none" stroke="#c0183f" stroke-width="0.9"/>
<circle cx="448.30" cy="331.10" r="1.35" fill="none" stroke="#c0183f" stroke-width="0.9"/>
<circle cx="451.50" cy="330.50" r="1.35" fill="none" stroke="#c0183f" stroke-width="0.9"/>
<circle cx="449.70" cy="342.70" r="1.35" fill="none" stroke="#c0183f" stroke-width="0.9"/>
<circle cx="449.70" cy="348.40" r="1.35" fill="none" stroke="#c0183f" stroke-width="0.9"/>
<line x1="446.20" y1="334.50" x2="453.30" y2="334.50" stroke="#231f20" stroke-width="1.3"/>
<circle cx="460.80" cy="307.60" r="1.45" fill="#a6001f"/>
<circle cx="460.80" cy="328.40" r="1.45" fill="#a6001f"/>
<circle cx="458.70" cy="331.40" r="1.45" fill="#a6001f"/>
<circle cx="462.30" cy="333.80" r="1.45" fill="#a6001f"/>
<circle cx="460.80" cy="344.50" r="1.45" fill="#a6001f"/>
<line x1="457.20" y1="323.00" x2="464.00" y2="323.00" stroke="#231f20" stroke-width="1.3"/>
<text x="8.2" y="463.2" font-size="13.8" font-weight="bold" fill="#000" textLength="7.3" lengthAdjust="spacingAndGlyphs">E</text>
<line x1="48.50" y1="471.30" x2="48.50" y2="625.00" stroke="#231f20" stroke-width="1.0"/>
<line x1="45.30" y1="624.50" x2="48.50" y2="624.50" stroke="#231f20" stroke-width="1.0"/>
<text x="41.40" y="627.50" font-size="9.5" fill="#231f20" text-anchor="end" textLength="11.49" lengthAdjust="spacingAndGlyphs">0.0</text>
<line x1="45.30" y1="606.50" x2="48.50" y2="606.50" stroke="#231f20" stroke-width="1.0"/>
<text x="41.40" y="608.70" font-size="9.5" fill="#231f20" text-anchor="end" textLength="11.49" lengthAdjust="spacingAndGlyphs">2.5</text>
<line x1="45.30" y1="587.50" x2="48.50" y2="587.50" stroke="#231f20" stroke-width="1.0"/>
<text x="41.40" y="589.90" font-size="9.5" fill="#231f20" text-anchor="end" textLength="11.49" lengthAdjust="spacingAndGlyphs">5.0</text>
<line x1="45.30" y1="568.50" x2="48.50" y2="568.50" stroke="#231f20" stroke-width="1.0"/>
<text x="41.40" y="571.10" font-size="9.5" fill="#231f20" text-anchor="end" textLength="11.49" lengthAdjust="spacingAndGlyphs">7.5</text>
<line x1="45.30" y1="549.50" x2="48.50" y2="549.50" stroke="#231f20" stroke-width="1.0"/>
<text x="41.40" y="552.30" font-size="9.5" fill="#231f20" text-anchor="end" textLength="16.08" lengthAdjust="spacingAndGlyphs">10.0</text>
<line x1="45.30" y1="530.50" x2="48.50" y2="530.50" stroke="#231f20" stroke-width="1.0"/>
<text x="41.40" y="533.50" font-size="9.5" fill="#231f20" text-anchor="end" textLength="16.08" lengthAdjust="spacingAndGlyphs">12.5</text>
<line x1="45.30" y1="511.50" x2="48.50" y2="511.50" stroke="#231f20" stroke-width="1.0"/>
<text x="41.40" y="514.70" font-size="9.5" fill="#231f20" text-anchor="end" textLength="16.08" lengthAdjust="spacingAndGlyphs">15.0</text>
<line x1="45.30" y1="493.50" x2="48.50" y2="493.50" stroke="#231f20" stroke-width="1.0"/>
<text x="41.40" y="495.90" font-size="9.5" fill="#231f20" text-anchor="end" textLength="16.08" lengthAdjust="spacingAndGlyphs">17.5</text>
<line x1="45.30" y1="474.50" x2="48.50" y2="474.50" stroke="#231f20" stroke-width="1.0"/>
<text x="41.40" y="477.10" font-size="9.5" fill="#231f20" text-anchor="end" textLength="16.08" lengthAdjust="spacingAndGlyphs">20.0</text>
<line x1="48.50" y1="624.95" x2="154.80" y2="624.95" stroke="#231f20" stroke-width="1.6"/>
<line x1="66.50" y1="624.95" x2="66.50" y2="627.95" stroke="#231f20" stroke-width="1.0"/>
<line x1="102.50" y1="624.95" x2="102.50" y2="627.95" stroke="#231f20" stroke-width="1.0"/>
<line x1="138.50" y1="624.95" x2="138.50" y2="627.95" stroke="#231f20" stroke-width="1.0"/>
<text transform="translate(19.40,547.50) rotate(-90)" x="0" y="0" font-size="10.2" fill="#231f20" text-anchor="middle" textLength="74.5" lengthAdjust="spacingAndGlyphs">Bleeding time (min)</text>
<line x1="51.70" y1="486.50" x2="144.40" y2="486.50" stroke="#231f20" stroke-width="1.0"/>
<text x="97.90" y="486.20" font-size="7.6" fill="#231f20" text-anchor="middle">*</text>
<line x1="51.70" y1="508.50" x2="118.80" y2="508.50" stroke="#231f20" stroke-width="1.0"/>
<text x="85.00" y="508.40" font-size="7.6" fill="#231f20" text-anchor="middle">*</text>
<line x1="89.40" y1="546.50" x2="147.70" y2="546.50" stroke="#231f20" stroke-width="1.0"/>
<text x="118.60" y="543.40" font-size="7.8" fill="#231f20" text-anchor="middle">ns</text>
<circle cx="66.30" cy="526.90" r="1.45" fill="#a6001f"/>
<circle cx="66.30" cy="553.60" r="1.45" fill="#a6001f"/>
<circle cx="66.30" cy="569.50" r="1.45" fill="#a6001f"/>
<circle cx="66.30" cy="576.80" r="1.45" fill="#a6001f"/>
<circle cx="63.80" cy="591.80" r="1.45" fill="#a6001f"/>
<circle cx="68.70" cy="595.00" r="1.45" fill="#a6001f"/>
<circle cx="66.30" cy="610.10" r="1.45" fill="#a6001f"/>
<line x1="66.50" y1="546.60" x2="66.50" y2="602.50" stroke="#231f20" stroke-width="1.0"/>
<line x1="60.50" y1="546.50" x2="72.10" y2="546.50" stroke="#231f20" stroke-width="1.0"/>
<line x1="60.50" y1="602.50" x2="72.10" y2="602.50" stroke="#231f20" stroke-width="1.0"/>
<line x1="54.80" y1="574.50" x2="77.80" y2="574.50" stroke="#231f20" stroke-width="1.1"/>
<circle cx="99.60" cy="599.40" r="1.45" fill="#a6001f"/>
<circle cx="104.50" cy="602.30" r="1.45" fill="#a6001f"/>
<circle cx="97.20" cy="614.50" r="1.45" fill="#a6001f"/>
<circle cx="102.00" cy="614.50" r="1.45" fill="#a6001f"/>
<circle cx="106.90" cy="614.50" r="1.45" fill="#a6001f"/>
<line x1="102.50" y1="601.60" x2="102.50" y2="616.90" stroke="#231f20" stroke-width="1.0"/>
<line x1="96.30" y1="601.50" x2="107.70" y2="601.50" stroke="#231f20" stroke-width="1.0"/>
<line x1="96.30" y1="616.50" x2="107.70" y2="616.50" stroke="#231f20" stroke-width="1.0"/>
<line x1="90.40" y1="609.50" x2="113.60" y2="609.50" stroke="#231f20" stroke-width="1.1"/>
<circle cx="138.50" cy="570.00" r="1.45" fill="#a6001f"/>
<circle cx="135.40" cy="599.40" r="1.45" fill="#a6001f"/>
<circle cx="140.20" cy="598.70" r="1.45" fill="#a6001f"/>
<circle cx="135.40" cy="608.40" r="1.45" fill="#a6001f"/>
<circle cx="142.20" cy="609.60" r="1.45" fill="#a6001f"/>
<circle cx="140.20" cy="613.70" r="1.45" fill="#a6001f"/>
<circle cx="135.40" cy="617.60" r="1.45" fill="#a6001f"/>
<line x1="138.50" y1="586.50" x2="138.50" y2="618.60" stroke="#231f20" stroke-width="1.0"/>
<line x1="132.50" y1="586.50" x2="144.50" y2="586.50" stroke="#231f20" stroke-width="1.0"/>
<line x1="132.50" y1="618.50" x2="144.50" y2="618.50" stroke="#231f20" stroke-width="1.0"/>
<line x1="126.90" y1="602.50" x2="150.10" y2="602.50" stroke="#231f20" stroke-width="1.1"/>
<text transform="translate(69.70,634.80) rotate(-45)" x="0" y="0" font-size="8.6" fill="#231f20" text-anchor="end">Pros1<tspan font-size="6.8" dy="-3.5">lox/lox</tspan><tspan dy="3.5"> Pf4-Cre</tspan><tspan font-size="6.2" dy="-3.6">−</tspan></text>
<text transform="translate(105.40,634.80) rotate(-45)" x="0" y="0" font-size="8.6" fill="#231f20" text-anchor="end">Pros1<tspan font-size="6.8" dy="-3.5">lox/-</tspan></text>
<text transform="translate(141.90,634.80) rotate(-45)" x="0" y="0" font-size="8.6" fill="#231f20" text-anchor="end">Pros1<tspan font-size="6.8" dy="-3.5">lox/lox</tspan><tspan dy="3.5"> Pf4-Cre</tspan><tspan font-size="6.2" dy="-3.6">+</tspan></text>
<text x="257.7" y="463.2" font-size="13.8" font-weight="bold" fill="#000" textLength="7.6" lengthAdjust="spacingAndGlyphs">F</text>
<line x1="298.50" y1="473.10" x2="298.50" y2="625.00" stroke="#231f20" stroke-width="1.0"/>
<line x1="295.40" y1="624.50" x2="298.60" y2="624.50" stroke="#231f20" stroke-width="1.0"/>
<text x="291.70" y="627.50" font-size="9.5" fill="#231f20" text-anchor="end" textLength="4.60" lengthAdjust="spacingAndGlyphs">0</text>
<line x1="295.40" y1="609.50" x2="298.60" y2="609.50" stroke="#231f20" stroke-width="1.0"/>
<text x="291.70" y="612.67" font-size="9.5" fill="#231f20" text-anchor="end" textLength="9.19" lengthAdjust="spacingAndGlyphs">25</text>
<line x1="295.40" y1="595.50" x2="298.60" y2="595.50" stroke="#231f20" stroke-width="1.0"/>
<text x="291.70" y="597.84" font-size="9.5" fill="#231f20" text-anchor="end" textLength="9.19" lengthAdjust="spacingAndGlyphs">50</text>
<line x1="295.40" y1="580.50" x2="298.60" y2="580.50" stroke="#231f20" stroke-width="1.0"/>
<text x="291.70" y="583.00" font-size="9.5" fill="#231f20" text-anchor="end" textLength="9.19" lengthAdjust="spacingAndGlyphs">75</text>
<line x1="295.40" y1="565.50" x2="298.60" y2="565.50" stroke="#231f20" stroke-width="1.0"/>
<text x="291.70" y="568.17" font-size="9.5" fill="#231f20" text-anchor="end" textLength="13.79" lengthAdjust="spacingAndGlyphs">100</text>
<line x1="295.40" y1="550.50" x2="298.60" y2="550.50" stroke="#231f20" stroke-width="1.0"/>
<text x="291.70" y="553.34" font-size="9.5" fill="#231f20" text-anchor="end" textLength="13.79" lengthAdjust="spacingAndGlyphs">125</text>
<line x1="295.40" y1="535.50" x2="298.60" y2="535.50" stroke="#231f20" stroke-width="1.0"/>
<text x="291.70" y="538.50" font-size="9.5" fill="#231f20" text-anchor="end" textLength="13.79" lengthAdjust="spacingAndGlyphs">150</text>
<line x1="295.40" y1="520.50" x2="298.60" y2="520.50" stroke="#231f20" stroke-width="1.0"/>
<text x="291.70" y="523.67" font-size="9.5" fill="#231f20" text-anchor="end" textLength="13.79" lengthAdjust="spacingAndGlyphs">175</text>
<line x1="295.40" y1="506.50" x2="298.60" y2="506.50" stroke="#231f20" stroke-width="1.0"/>
<text x="291.70" y="508.84" font-size="9.5" fill="#231f20" text-anchor="end" textLength="13.79" lengthAdjust="spacingAndGlyphs">200</text>
<line x1="295.40" y1="491.50" x2="298.60" y2="491.50" stroke="#231f20" stroke-width="1.0"/>
<text x="291.70" y="494.01" font-size="9.5" fill="#231f20" text-anchor="end" textLength="13.79" lengthAdjust="spacingAndGlyphs">225</text>
<line x1="295.40" y1="476.50" x2="298.60" y2="476.50" stroke="#231f20" stroke-width="1.0"/>
<text x="291.70" y="479.17" font-size="9.5" fill="#231f20" text-anchor="end" textLength="13.79" lengthAdjust="spacingAndGlyphs">250</text>
<line x1="298.60" y1="624.95" x2="404.50" y2="624.95" stroke="#231f20" stroke-width="1.6"/>
<line x1="316.50" y1="624.95" x2="316.50" y2="627.95" stroke="#231f20" stroke-width="1.0"/>
<line x1="351.50" y1="624.95" x2="351.50" y2="627.95" stroke="#231f20" stroke-width="1.0"/>
<line x1="387.50" y1="624.95" x2="387.50" y2="627.95" stroke="#231f20" stroke-width="1.0"/>
<text transform="translate(272.20,549.00) rotate(-90)" x="0" y="0" font-size="10.2" fill="#231f20" text-anchor="middle" textLength="54.5" lengthAdjust="spacingAndGlyphs">Blood loss (μL)</text>
<line x1="305.00" y1="486.50" x2="364.50" y2="486.50" stroke="#231f20" stroke-width="1.0"/>
<text x="334.60" y="487.00" font-size="7.6" fill="#231f20" text-anchor="middle">**</text>
<line x1="305.00" y1="499.50" x2="400.00" y2="499.50" stroke="#231f20" stroke-width="1.0"/>
<text x="353.00" y="500.00" font-size="7.6" fill="#231f20" text-anchor="middle">**</text>
<line x1="341.80" y1="533.50" x2="400.00" y2="533.50" stroke="#231f20" stroke-width="1.0"/>
<text x="370.80" y="531.00" font-size="7.8" fill="#231f20" text-anchor="middle">ns</text>
<circle cx="316.40" cy="511.80" r="1.45" fill="#a6001f"/>
<circle cx="316.40" cy="529.80" r="1.45" fill="#a6001f"/>
<circle cx="316.40" cy="553.20" r="1.45" fill="#a6001f"/>
<circle cx="316.40" cy="559.20" r="1.45" fill="#a6001f"/>
<circle cx="313.20" cy="565.30" r="1.45" fill="#a6001f"/>
<circle cx="318.60" cy="565.30" r="1.45" fill="#a6001f"/>
<circle cx="316.40" cy="595.00" r="1.45" fill="#a6001f"/>
<line x1="316.50" y1="527.40" x2="316.50" y2="581.10" stroke="#231f20" stroke-width="1.0"/>
<line x1="310.30" y1="527.50" x2="322.50" y2="527.50" stroke="#231f20" stroke-width="1.0"/>
<line x1="310.30" y1="581.50" x2="322.50" y2="581.50" stroke="#231f20" stroke-width="1.0"/>
<line x1="304.60" y1="554.50" x2="328.20" y2="554.50" stroke="#231f20" stroke-width="1.1"/>
<circle cx="351.70" cy="588.90" r="1.45" fill="#a6001f"/>
<circle cx="349.00" cy="595.00" r="1.45" fill="#a6001f"/>
<circle cx="354.10" cy="591.80" r="1.45" fill="#a6001f"/>
<circle cx="351.70" cy="601.10" r="1.45" fill="#a6001f"/>
<circle cx="351.70" cy="612.80" r="1.45" fill="#a6001f"/>
<line x1="351.50" y1="588.40" x2="351.50" y2="607.40" stroke="#231f20" stroke-width="1.0"/>
<line x1="345.60" y1="588.50" x2="357.80" y2="588.50" stroke="#231f20" stroke-width="1.0"/>
<line x1="345.60" y1="607.50" x2="357.80" y2="607.50" stroke="#231f20" stroke-width="1.0"/>
<line x1="339.90" y1="597.50" x2="363.50" y2="597.50" stroke="#231f20" stroke-width="1.1"/>
<circle cx="387.00" cy="577.20" r="1.45" fill="#a6001f"/>
<circle cx="389.40" cy="588.90" r="1.45" fill="#a6001f"/>
<circle cx="384.50" cy="593.80" r="1.45" fill="#a6001f"/>
<circle cx="384.50" cy="599.10" r="1.45" fill="#a6001f"/>
<circle cx="389.40" cy="601.10" r="1.45" fill="#a6001f"/>
<circle cx="384.50" cy="610.10" r="1.45" fill="#a6001f"/>
<circle cx="389.90" cy="608.40" r="1.45" fill="#a6001f"/>
<line x1="387.50" y1="585.80" x2="387.50" y2="607.90" stroke="#231f20" stroke-width="1.0"/>
<line x1="380.90" y1="585.50" x2="393.10" y2="585.50" stroke="#231f20" stroke-width="1.0"/>
<line x1="380.90" y1="607.50" x2="393.10" y2="607.50" stroke="#231f20" stroke-width="1.0"/>
<line x1="375.10" y1="597.50" x2="398.90" y2="597.50" stroke="#231f20" stroke-width="1.1"/>
<text transform="translate(319.80,634.80) rotate(-45)" x="0" y="0" font-size="8.6" fill="#231f20" text-anchor="end">Pros1<tspan font-size="6.8" dy="-3.5">lox/lox</tspan><tspan dy="3.5"> Pf4-Cre</tspan><tspan font-size="6.2" dy="-3.6">−</tspan></text>
<text transform="translate(355.10,634.80) rotate(-45)" x="0" y="0" font-size="8.6" fill="#231f20" text-anchor="end">Pros1<tspan font-size="6.8" dy="-3.5">lox/-</tspan></text>
<text transform="translate(390.40,634.80) rotate(-45)" x="0" y="0" font-size="8.6" fill="#231f20" text-anchor="end">Pros1<tspan font-size="6.8" dy="-3.5">lox/lox</tspan><tspan dy="3.5"> Pf4-Cre</tspan><tspan font-size="6.2" dy="-3.6">+</tspan></text>
<rect x="0" y="0" width="1.4" height="699" fill="#000"/><rect x="0" y="0" width="520" height="1.1" fill="#000"/><rect x="518.7" y="0" width="1.3" height="699" fill="#000"/><rect x="0" y="697.5" width="520" height="1.5" fill="#000"/>
</svg></body></html>
